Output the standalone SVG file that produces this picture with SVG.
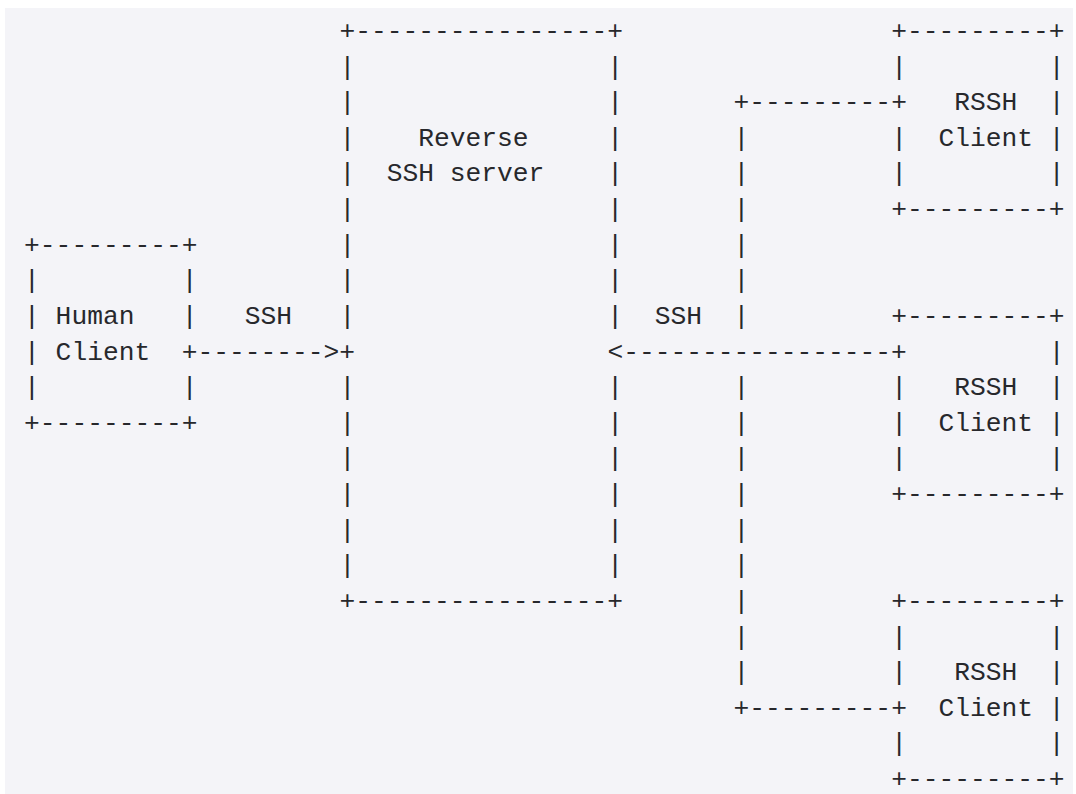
<svg xmlns="http://www.w3.org/2000/svg" width="1076" height="794" viewBox="0 0 1076 794" xml:space="preserve">
<style>
  text { font-family: "Liberation Mono", "DejaVu Sans Mono", monospace; font-size: 26.27px; fill: #27282c; white-space: pre; }
</style>
<rect x="0" y="0" width="1076" height="794" fill="#ffffff"/>
<rect x="5" y="8" width="1068" height="786" fill="#f4f4f8"/>

<g id="human-client">
  <text x="24.1" y="252.72">+---------+</text>
  <text x="24.1" y="288.34">|         |</text>
  <text x="24.1" y="323.96">| Human   |</text>
  <text x="24.1" y="359.58">| Client</text>
  <text x="24.1" y="395.2">|         |</text>
  <text x="24.1" y="430.82">+---------+</text>
</g>

<g id="reverse-ssh-server">
  <text x="339.4" y="39">+----------------+</text>
  <text x="339.4" y="74.62">|                |</text>
  <text x="339.4" y="110.24">|                |</text>
  <text x="339.4" y="145.86">|    Reverse     |</text>
  <text x="339.4" y="181.48">|  SSH server    |</text>
  <text x="339.4" y="217.1">|                |</text>
  <text x="339.4" y="252.72">|                |</text>
  <text x="339.4" y="288.34">|                |</text>
  <text x="339.4" y="323.96">|                |</text>
  <text x="339.4" y="395.2">|                |</text>
  <text x="339.4" y="430.82">|                |</text>
  <text x="339.4" y="466.44">|                |</text>
  <text x="339.4" y="502.06">|                |</text>
  <text x="339.4" y="537.68">|                |</text>
  <text x="339.4" y="573.3">|                |</text>
  <text x="339.4" y="608.92">+----------------+</text>
</g>

<g id="rssh-client-1">
  <text x="891.18" y="39">+---------+</text>
  <text x="891.18" y="74.62">|         |</text>
  <text x="906.95" y="110.24">   RSSH  |</text>
  <text x="891.18" y="145.86">|  Client |</text>
  <text x="891.18" y="181.48">|         |</text>
  <text x="891.18" y="217.1">+---------+</text>
</g>

<g id="rssh-client-2">
  <text x="891.18" y="323.96">+---------+</text>
  <text x="906.95" y="359.58">         |</text>
  <text x="891.18" y="395.2">|   RSSH  |</text>
  <text x="891.18" y="430.82">|  Client |</text>
  <text x="891.18" y="466.44">|         |</text>
  <text x="891.18" y="502.06">+---------+</text>
</g>

<g id="rssh-client-3">
  <text x="891.18" y="608.92">+---------+</text>
  <text x="891.18" y="644.54">|         |</text>
  <text x="891.18" y="680.16">|   RSSH  |</text>
  <text x="906.95" y="715.78">  Client |</text>
  <text x="891.18" y="751.4">|         |</text>
  <text x="891.18" y="787.02">+---------+</text>
</g>

<g id="connectors">
  <text x="181.75" y="359.58">+-------->+</text>
  <text x="244.81" y="323.96">SSH</text>
  <text x="607.41" y="359.58">&lt;-----------------+</text>
  <text x="654.7" y="323.96">SSH</text>
  <text x="733.53" y="110.24">+---------+</text>
  <text x="733.53" y="145.86">|</text>
  <text x="733.53" y="181.48">|</text>
  <text x="733.53" y="217.1">|</text>
  <text x="733.53" y="252.72">|</text>
  <text x="733.53" y="288.34">|</text>
  <text x="733.53" y="323.96">|</text>
  <text x="733.53" y="395.2">|</text>
  <text x="733.53" y="430.82">|</text>
  <text x="733.53" y="466.44">|</text>
  <text x="733.53" y="502.06">|</text>
  <text x="733.53" y="537.68">|</text>
  <text x="733.53" y="573.3">|</text>
  <text x="733.53" y="608.92">|</text>
  <text x="733.53" y="644.54">|</text>
  <text x="733.53" y="680.16">|</text>
  <text x="733.53" y="715.78">+---------+</text>
</g>
</svg>
